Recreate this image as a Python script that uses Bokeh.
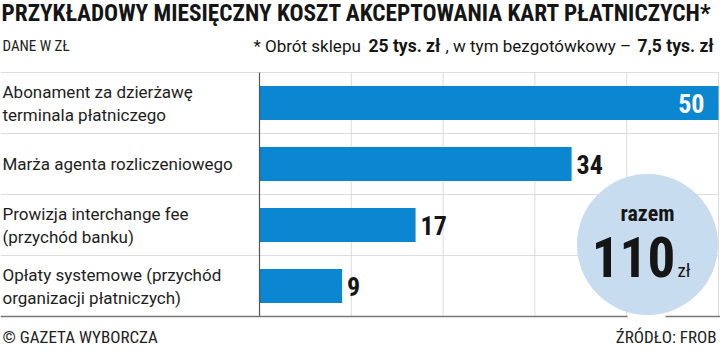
from bokeh.plotting import figure
from bokeh.models import Range1d, ColumnDataSource, Label
from bokeh.core.properties import value
from bokeh.embed import file_html
from bokeh.resources import INLINE

# ---- data ----
categories = [
    "Abonament za dzierżawę\nterminala płatniczego",
    "Marża agenta rozliczeniowego",
    "Prowizja interchange fee\n(przychód banku)",
    "Opłaty systemowe (przychód\norganizacji płatniczych)",
]
values = [50, 34, 17, 9]
grid_ticks = [10, 20, 30, 40, 50]

title = "PRZYKŁADOWY MIESIĘCZNY KOSZT AKCEPTOWANIA KART PŁATNICZYCH*"
unit_note = "DANE W ZŁ"
footnote_parts = [("* Obrót sklepu", "normal"), ("25 tys. zł", "bold"),
                  (", w tym bezgotówkowy –", "normal"), ("7,5 tys. zł", "bold")]
total_label = "razem"
currency = "zł"
copyright_txt = "© GAZETA WYBORCZA"
source_txt = "ŹRÓDŁO: FROB"

COND = "'Roboto Condensed', Roboto, sans-serif"
REG = "Roboto"
BLUE = "#0b86d0"
INK = "#151515"

W, H = 720, 354
X0PX = 259.0          # pixel position of value 0
PXU = 9.18            # pixels per unit
TOP, ROWH = 72.0, 61.0
NROW = len(categories)


def xd(px):
    return (px - X0PX) / PXU


def yd(py):
    return (py - TOP) / ROWH


p = figure(width=W, height=H, output_backend="svg", toolbar_location=None,
           x_range=Range1d(xd(0), xd(W)), y_range=Range1d(yd(H), yd(0)),
           min_border=0, outline_line_color=None)
p.axis.visible = False
p.grid.visible = False

rows = list(range(NROW))
# grid
p.segment(x0=grid_ticks, x1=grid_ticks, y0=[0] * len(grid_ticks), y1=[NROW] * len(grid_ticks),
          line_color="#dcdcdc", line_width=1)
p.segment(x0=[xd(0)] * NROW, x1=[max(values)] * NROW, y0=rows, y1=rows,
          line_color="#dcdcdc", line_width=1)

src = ColumnDataSource(dict(cat=categories, v=values, y=[r + 0.5 for r in rows],
                            lx=[xd(2)] * NROW))
p.hbar(y="y", right="v", left=0, height=0.56, source=src, fill_color=BLUE, line_color=None)

p.segment(x0=[0], x1=[0], y0=[0], y1=[NROW], line_color="#555555", line_width=1.2)

p.text(x="lx", y="y", text="cat", source=src, text_font=value(REG), text_font_size="17px",
       text_color="#1e1e1e", text_baseline="middle", text_align="left", text_line_height=1.15)

vmax = max(values)
inside = ColumnDataSource(dict(v=[v for v in values if v == vmax],
                               y=[r + 0.5 for r, v in zip(rows, values) if v == vmax],
                               t=[str(v) for v in values if v == vmax]))
outside = ColumnDataSource(dict(v=[v for v in values if v != vmax],
                                y=[r + 0.5 for r, v in zip(rows, values) if v != vmax],
                                t=[str(v) for v in values if v != vmax]))
p.text(x="v", y="y", text="t", source=inside, x_offset=-14, text_font=value(COND),
       text_font_style="bold", text_font_size="26px", text_color="white",
       text_align="right", text_baseline="middle")
p.text(x="v", y="y", text="t", source=outside, x_offset=5, text_font=value(COND),
       text_font_style="bold", text_font_size="26px", text_color=INK,
       text_align="left", text_baseline="middle")

# total bubble
p.circle(x=[xd(647)], y=[yd(244)], radius=70.5 / PXU, fill_color="#c8dcf0",
         line_color=None)
# bottom rule, broken by the bubble
p.segment(x0=[xd(0), xd(665)], x1=[xd(627), xd(W)], y0=[NROW, NROW], y1=[NROW, NROW],
          line_color="#777777", line_width=1.5)
p.text(x=[xd(647)], y=[yd(213)], text=[total_label], text_font=value(COND),
       text_font_style="bold", text_font_size="22px", text_color=INK,
       text_align="center", text_baseline="middle")
p.text(x=[xd(633)], y=[yd(256)], text=[str(sum(values))], text_font=value(COND),
       text_font_style="bold", text_font_size="55px", text_color=INK,
       text_align="center", text_baseline="middle")
p.text(x=[xd(677)], y=[yd(270)], text=[currency], text_font=value(COND),
       text_font_size="19px", text_color=INK,
       text_align="left", text_baseline="middle")

# titles and notes
p.add_layout(Label(x=xd(1), y=yd(12), text=title, text_font=COND, text_font_style="bold",
                   text_font_size="23.3px", text_color=INK, text_baseline="middle"))
p.add_layout(Label(x=xd(2), y=yd(45), text=unit_note, text_font=COND,
                   text_font_size="15px", text_color="#222222", text_baseline="middle"))
fx = [253, 368, 445, 637]
for (t, st), xpx in zip(footnote_parts, fx):
    p.add_layout(Label(x=xd(xpx), y=yd(45), text=t, text_font=REG, text_font_style=st,
                       text_font_size="17px" if st == "normal" else "17.5px",
                       text_color=INK, text_baseline="middle"))
p.add_layout(Label(x=xd(2), y=yd(336), text=copyright_txt, text_font=COND,
                   text_font_size="17px", text_color="#222222", text_baseline="middle"))
p.add_layout(Label(x=xd(716), y=yd(336), text=source_txt, text_font=COND,
                   text_font_size="17px", text_color="#222222", text_baseline="middle",
                   text_align="right"))

open("out.html", "w").write(file_html(p, INLINE))
